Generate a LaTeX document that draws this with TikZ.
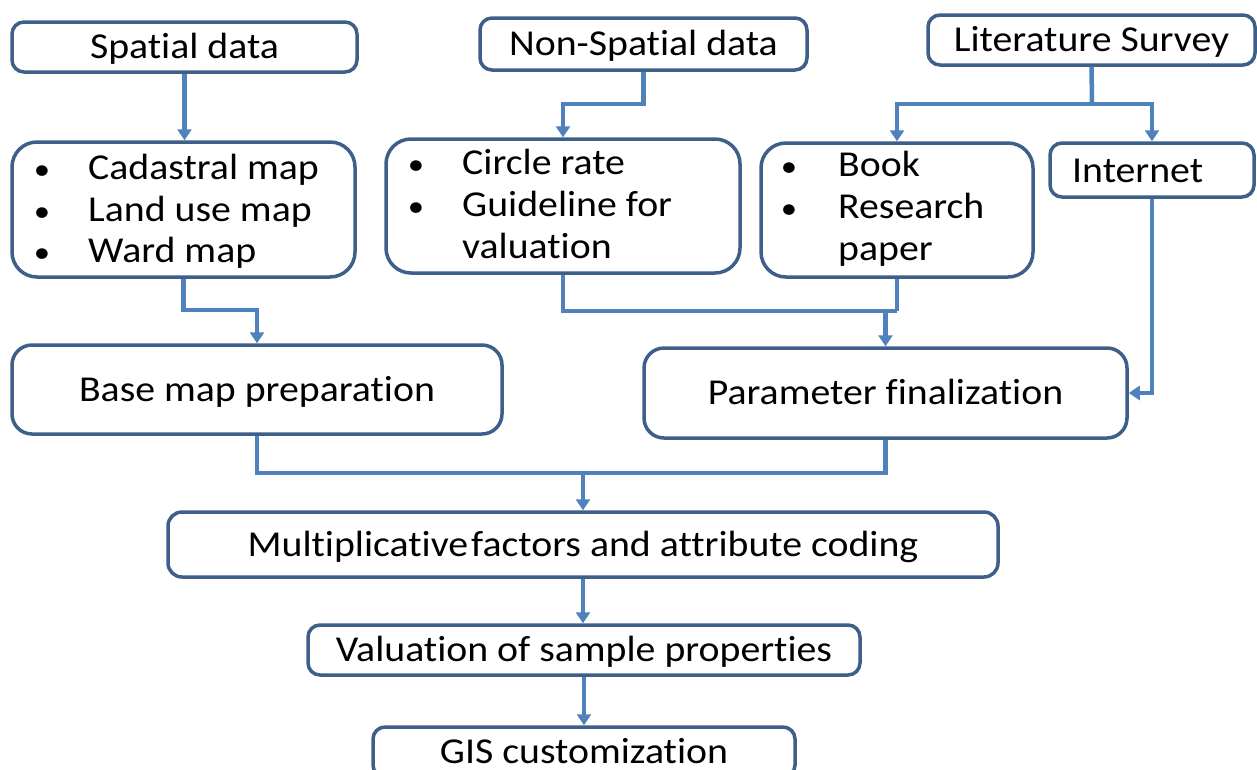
\documentclass[tikz,border=0pt]{standalone}
\usepackage{fontspec}
\setmainfont{Carlito}[FakeStretch=1.09, Ligatures={NoCommon}]
\usetikzlibrary{arrows.meta}
\definecolor{linec}{HTML}{4F81BD}
\definecolor{boxc}{HTML}{3E5F8A}
\begin{document}
\begin{tikzpicture}[x=1pt,y=-1pt, font=\fontsize{36.5}{44}\selectfont,
  box/.style={draw=boxc, line width=3.5pt, rounded corners=#1, inner sep=0pt,
    fill=white, text height=23pt, text depth=0pt, anchor=center},
  box/.default=12pt,
  conn/.style={draw=linec, line width=4.5pt},
  arr/.style={conn, -{Triangle[width=14pt,length=11pt]}},
  lbl/.style={inner sep=0pt, anchor=base west},
  bul/.style={inner sep=0pt, anchor=base, font=\fontsize{30}{36}\selectfont}]
\useasboundingbox (0,0) rectangle (1257,769);
\clip (0,0) rectangle (1257,769);
\fill[white] (0,0) rectangle (1257,769);

% boxes
\node[box, minimum width=345pt, minimum height=50pt] (spatial) at (184.5,47) {Spatial data};
\node[box, minimum width=327pt, minimum height=52pt] (nonsp) at (643.5,44) {Non-Spatial data};
\node[box, minimum width=327pt, minimum height=50pt] (lit) at (1091.5,40) {Literature Survey};
\node[box=25pt, minimum width=343pt, minimum height=135pt] (cad) at (183.5,209.5) {};
\node[box=25pt, minimum width=354pt, minimum height=134pt] (circle) at (563,206) {};
\node[box=25pt, minimum width=272pt, minimum height=134pt] (book) at (897,210) {};
\node[box, minimum width=204pt, minimum height=54pt] (internet) at (1152,170) {};
\node[box=20pt, minimum width=490pt, minimum height=89pt] (base) at (257,389.5) {Base map preparation};
\node[box=20pt, minimum width=483pt, minimum height=90pt] (param) at (885.5,393) {Parameter finalization};
\node[box=14pt, minimum width=830pt, minimum height=65pt] (mult) at (583,544.5) {Multiplicative\kern0.08em factors and attribute coding};
\node[box, minimum width=552pt, minimum height=50pt] (val) at (584,650) {Valuation of sample properties};
\node[box, minimum width=422pt, minimum height=50pt] (gis) at (584,752) {GIS customization};

% list texts
\node[bul] (cadb1) at (42,179) {•};
\node[lbl] (cadt1) at (88,179) {Cadastral map};
\node[bul] (cadb2) at (42,221) {•};
\node[lbl] (cadt2) at (88,221) {Land use map};
\node[bul] (cadb3) at (42,262) {•};
\node[lbl] (cadt3) at (88,262) {Ward map};

\node[bul] (cirb1) at (416,174) {•};
\node[lbl] (cirt1) at (462,174) {Circle rate};
\node[bul] (cirb2) at (416,216) {•};
\node[lbl] (cirt2) at (462,216) {Guideline for};
\node[lbl] (cirt3) at (462,258) {valuation};

\node[bul] (bokb1) at (789,176) {•};
\node[lbl] (bokt1) at (838,176) {Book};
\node[bul] (bokb2) at (789,218) {•};
\node[lbl] (bokt2) at (838,218) {Research};
\node[lbl] (bokt3) at (838,260) {paper};

\node[lbl] (intt) at (1072,182) {Internet};

% connectors
\draw[arr] (spatial.south) -- (spatial.south |- cad.north);

\coordinate (jn) at (563,104);
\draw[arr] (nonsp.south) |- (jn) -- (circle.north);

\coordinate (jl) at (1092,104);
\draw[conn] (lit.south) -- (jl);
\draw[arr] (jl) -| (book.north);
\draw[arr] (jl) -| (internet.north);

\coordinate (jc) at (183.5,310);
\draw[arr] (cad.south) -- (jc) -| (base.north);

\coordinate (jp) at (897,311);
\draw[conn] (circle.south) |- (jp);
\draw[conn] (book.south) -- (jp);
\draw[arr] (jp -| param.north) -- (param.north);

\draw[arr] (internet.south) |- (param.east);

\coordinate (jm) at (583,473);
\draw[conn] (base.south) |- (jm);
\draw[conn] (param.south) |- (jm);
\draw[arr] (jm) -- (mult.north);

\draw[arr] (mult.south) -- (mult.south |- val.north);
\draw[arr] (val.south) -- (val.south |- gis.north);
\end{tikzpicture}
\end{document}
